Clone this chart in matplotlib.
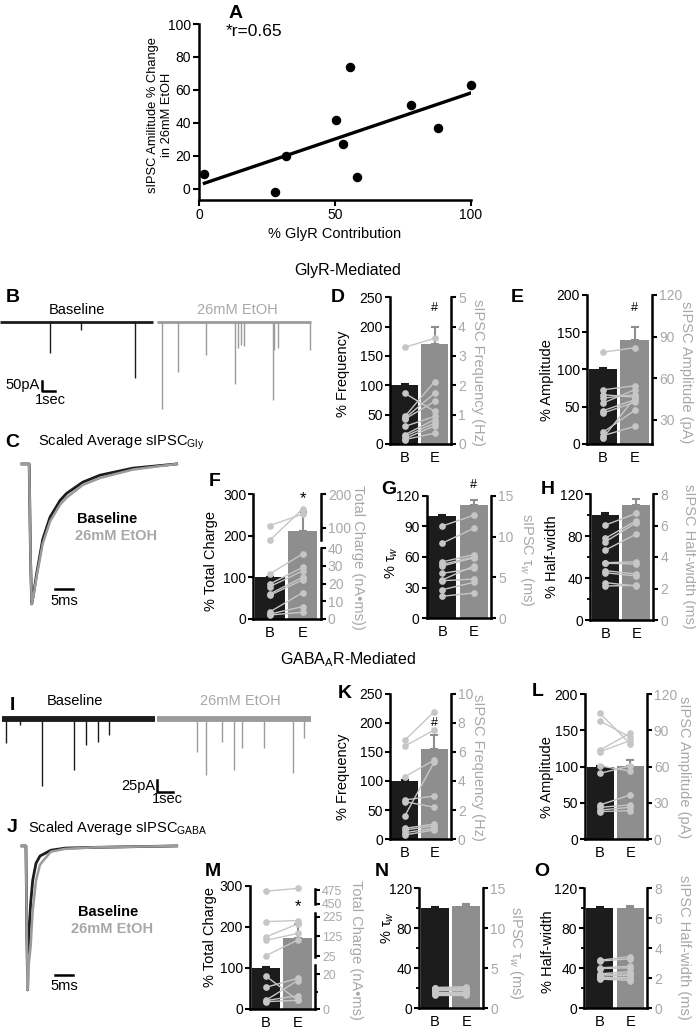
import numpy as np
import matplotlib
matplotlib.use("Agg")
import matplotlib.pyplot as plt

plt.rcParams["font.family"] = ["Liberation Sans", "DejaVu Sans"]
plt.rcParams["mathtext.fontset"] = "custom"
plt.rcParams["mathtext.rm"] = "Liberation Sans"
plt.rcParams["mathtext.it"] = "Liberation Sans:italic"

BLK = "#1c1c1c"
GRY = "#8e8e8e"
PT = "#c6c6c6"
RG = "#a8a8a8"
TG = "#9b9b9b"

# ---- panel A: correlation ----
glyr_pct = [2, 28, 32, 50.5, 53, 55.5, 58, 78, 88, 100]
amp_change = [9, -2, 20, 42, 27, 74, 7, 51, 37, 63]

# ---- panel B / I: raw traces (event time s, amplitude pA) ----
b_base_t = [3.85, 6.2, 10.4]
b_base_amp = [155, 40, 280]
b_etoh_t = [12.45, 13.7, 15.85, 18.1, 18.3, 18.5, 18.8, 21.0, 21.1, 21.4, 23.85]
b_etoh_amp = [435, 250, 165, 310, 130, 115, 120, 390, 140, 130, 140]

i_base_t = [0.375, 1.25, 2.6, 4.6, 5.4, 6.1, 6.8]
i_base_amp = [50, 12, 139, 106, 54, 48, 33]
i_etoh_t = [12.3, 12.9, 13.9, 14.6, 15.1, 16.5, 18.3, 19.0]
i_etoh_amp = [69, 117, 48, 106, 60, 60, 112, 40]

# ---- panel C / J: scaled averages (ms, normalised) ----
gly_t = [0, 2.0, 2.4, 2.7, 3.2, 4.1, 5.75, 7.8, 10.6, 12.4, 16.9, 21.7, 30.8, 43]
gly_base = [0, 0, -0.7, -1.0, -0.93, -0.78, -0.54, -0.38, -0.26, -0.21, -0.13, -0.08, -0.03, 0]
gly_etoh = [0, 0, -0.7, -1.0, -0.94, -0.80, -0.57, -0.41, -0.29, -0.24, -0.15, -0.10, -0.04, 0]

gaba_t = [0, 1.1, 1.35, 1.58, 1.75, 2.4, 2.97, 3.9, 5.0, 8.0, 12, 20, 43]
gaba_base = [0, 0, -0.6, -1.0, -0.70, -0.40, -0.24, -0.12, -0.07, -0.03, -0.015, -0.01, 0]
gaba_etoh = [0, 0, -0.6, -1.0, -0.85, -0.70, -0.45, -0.24, -0.13, -0.04, -0.02, -0.01, 0]

# ---- bar panels: % of baseline (bars), SEM, paired raw values ----
d_pct, d_err = [100, 170], [2, 30]
d_b = [3.3, 1.73, 0.94, 0.88, 0.85, 0.6, 0.32, 0.26, 0.18, 0.15]
d_e = [3.6, 1.11, 2.13, 1.73, 1.45, 0.94, 0.83, 0.71, 0.62, 0.37]

e_pct, e_err = [100, 139], [1.5, 18]
e_b = [78.7, 51.6, 48, 45.6, 42, 36.5, 34.8, 20.9, 18.5, 16.8]
e_e = [82, 54.5, 46.3, 48, 51.6, 44.4, 42.5, 36.7, 25.2, 45.6]

f_pct, f_err = [100, 212], [2, 46]
f_b = [106, 62, 25.5, 19.8, 18.3, 14.2, 13.4, 4, 2.8, 2.3]
f_e = [141, 156, 36.8, 29.2, 27.2, 23.6, 22.1, 14.9, 7, 3.8]

g_pct, g_err = [100, 111], [1.5, 5]
g_b = [11.3, 9.2, 6.9, 6.6, 6.4, 5.5, 4.7, 4.6, 3.5, 2.7]
g_e = [12.6, 11.0, 7.8, 7.5, 7.4, 6.1, 6.4, 4.8, 4.4, 3.1]

h_pct, h_err = [100, 110], [1.5, 5.5]
h_b = [6.03, 5.19, 4.97, 4.44, 3.64, 3.6, 3.13, 3.0, 2.37, 2.16]
h_e = [6.77, 6.31, 6.18, 5.46, 3.7, 3.56, 2.92, 2.79, 2.16, 2.2]

k_pct, k_err = [100, 155], [2, 24]
k_b = [6.8, 6.4, 4.3, 2.7, 2.58, 1.6, 0.75, 0.64, 0.46, 0.3]
k_e = [8.76, 7.5, 5.44, 2.97, 2.2, 5.32, 1.05, 0.92, 0.75, 0.64]

l_pct, l_err = [99, 101], [1.5, 8]
l_b = [104, 97.7, 73.8, 72.4, 60.6, 54.5, 28.4, 26.4, 24.2, 22.9]
l_e = [78.8, 84.3, 87.6, 81.5, 56.4, 60.6, 36.6, 28.4, 26.4, 23.7]

m_pct, m_err = [100, 172], [2, 35]
m_b = [473, 200, 122, 105, 27, 18.9, 12.4, 5.0, 4.8, 4.2]
m_e = [478, 205, 188, 140, 106, 5.0, 17.5, 16.2, 7.6, 5.0]

n_pct, n_err = [100, 102], [1.5, 2.5]
n_b = [2.6, 2.5, 2.4, 2.3, 2.2, 2.1, 2.0, 1.9, 1.8, 1.7]
n_e = [2.7, 2.55, 2.45, 2.35, 2.25, 2.1, 2.0, 1.9, 1.8, 1.7]

o_pct, o_err = [100, 100], [1.5, 2.5]
o_b = [3.2, 3.15, 2.7, 2.65, 2.3, 2.25, 2.15, 2.1, 2.0, 1.95]
o_e = [3.45, 3.3, 2.8, 2.7, 2.45, 2.3, 2.2, 2.1, 1.95, 1.85]

W, H = 696, 1031
fig = plt.figure(figsize=(W / 100, H / 100), dpi=100)


def px_axes(x0, y0, x1, y1):
    return fig.add_axes([x0 / W, 1 - y1 / H, (x1 - x0) / W, (y1 - y0) / H])


def ftext(x, y, s, **kw):
    kw.setdefault("ha", "center")
    kw.setdefault("va", "center")
    fig.text(x / W, 1 - y / H, s, **kw)


def letter(x, y, s):
    ftext(x, y, s, fontsize=14, fontweight="bold")


# panel A
ax = px_axes(199, 24, 471, 200)
ax.scatter(glyr_pct, amp_change, s=34, color="k", zorder=3, clip_on=False)
slope, icpt = np.polyfit(glyr_pct, amp_change, 1)
xs = np.array([min(glyr_pct), max(glyr_pct)])
ax.plot(xs, slope * xs + icpt, color="k", lw=2.4)
ax.set_xlim(0, 100)
ax.set_ylim(-6.7, 100)
ax.set_xticks([0, 50, 100])
ax.set_yticks([0, 20, 40, 60, 80, 100])
for s in ["top", "right"]:
    ax.spines[s].set_visible(False)
for s in ["left", "bottom"]:
    ax.spines[s].set_linewidth(1.8)
ax.tick_params(length=4, width=1.5, labelsize=10, pad=2)
ax.text(0.1, 0.96, "*r=0.65", transform=ax.transAxes, fontsize=12.5, va="center")
ftext(335, 234, "% GlyR Contribution", fontsize=10.5)
ftext(160, 115, "sIPSC Amilitude % Change\nin 26mM EtOH", fontsize=9.3,
      rotation=90, multialignment="center")
letter(236, 14, "A")

ftext(348, 270, "GlyR-Mediated", fontsize=11.5)
ftext(348, 660, "GABA$_\\mathregular{A}$R-Mediated", fontsize=11.5)


def trace_panel(box, xlim, ylim, segs, events):
    ax = px_axes(*box)
    ax.set_axis_off()
    ax.set_xlim(*xlim)
    ax.set_ylim(*ylim)
    for (t0, t1, col, lw), (ts, amps) in zip(segs, events):
        ax.hlines(0, t0, t1, color=col, lw=lw)
        ax.vlines(ts, -np.array(amps), 0, color=col, lw=1.0)
    return ax


# panel B
axb = trace_panel((0, 300, 315, 415), (0, 315 / 13), (-465, 110),
                  [(0, 11.8, BLK, 2.0), (12.1, 23.9, TG, 2.0)],
                  [(b_base_t, b_base_amp), (b_etoh_t, b_etoh_amp)])
axb.plot([3.23, 3.23, 4.23], [-295, -345, -345], color="k", lw=1.8)
ftext(77, 310, "Baseline", fontsize=10.5)
ftext(237, 310, "26mM EtOH", fontsize=10.5, color=RG)
ftext(40, 385, "50pA", fontsize=10.5, ha="right")
ftext(50, 400, "1sec", fontsize=10.5)
letter(13, 297, "B")

# panel I
axi = trace_panel((0, 695, 315, 800), (0, 315 / 16), (-168.75, 50),
                  [(0.125, 9.69, BLK, 4.2), (9.81, 19.44, TG, 4.2)],
                  [(i_base_t, i_base_amp), (i_etoh_t, i_etoh_amp)])
axi.plot([9.8, 9.8, 10.8], [-127, -152, -152], color="k", lw=1.8)
ftext(75, 701, "Baseline", fontsize=10.5)
ftext(240, 701, "26mM EtOH", fontsize=10.5, color=RG)
ftext(155, 786, "25pA", fontsize=10.5, ha="right")
ftext(167, 799, "1sec", fontsize=10.5)
letter(12, 706, "I")


def avg_panel(box, ylim, t, base, etoh, bar_y):
    ax = px_axes(*box)
    ax.set_axis_off()
    ax.set_xlim(-1.94, 45.3)
    ax.set_ylim(*ylim)
    ax.plot(t, base, color=BLK, lw=2.0)
    ax.plot(t, etoh, color=TG, lw=1.8)
    ax.plot([9.17, 14.17], [bar_y, bar_y], color="k", lw=1.8)
    return ax


avg_panel((15, 455, 185, 610), (-1.043, 0.064), gly_t, gly_base, gly_etoh, -0.893)
ftext(64, 601, "5ms", fontsize=10.5)
ftext(107, 519, "Baseline", fontsize=10.5, fontweight="bold")
ftext(116, 536, "26mM EtOH", fontsize=10.5, fontweight="bold", color=RG)
ftext(38, 442, "Scaled Average sIPSC$_\\mathregular{Gly}$", fontsize=10.5, ha="left")
letter(12, 442, "C")

avg_panel((15, 835, 185, 995), (-1.035, 0.076), gaba_t, gaba_base, gaba_etoh, -0.896)
ftext(64, 986, "5ms", fontsize=10.5)
ftext(108, 912, "Baseline", fontsize=10.5, fontweight="bold")
ftext(112, 929, "26mM EtOH", fontsize=10.5, fontweight="bold", color=RG)
ftext(28, 828, "Scaled Average sIPSC$_\\mathregular{GABA}$", fontsize=10.5, ha="left")
letter(12, 828, "J")


def bar_panel(box, ymax, lticks, pct, err, b_raw, e_raw, segs, minor=None,
              mark=None, rsize=10):
    x0, x1, ytop, ybot = box
    ax = px_axes(x0, ytop, x1, ybot)
    ax.patch.set_visible(False)
    ax.set_xlim(-0.5, 1.55)
    ax.set_ylim(0, ymax)
    ax.bar([0, 1], pct, width=0.9, color=[BLK, GRY], zorder=1)
    for i, c in enumerate([BLK, GRY]):
        ax.errorbar(i, pct[i], yerr=[[0], [err[i]]], color=c, capsize=3,
                    lw=1.5, capthick=1.5, zorder=1)
    for s in ["top", "right"]:
        ax.spines[s].set_visible(False)
    for s in ["left", "bottom"]:
        ax.spines[s].set_linewidth(1.8)
    ax.set_yticks(lticks)
    if minor:
        ax.set_yticks(minor, minor=True)
        ax.tick_params(axis="y", which="minor", length=2.5, width=1.3)
    ax.tick_params(axis="y", length=3.6, width=1.5, labelsize=10, pad=1.5)
    ax.set_xticks([0, 1])
    ax.set_xticklabels(["B", "E"])
    ax.tick_params(axis="x", length=0, labelsize=10.5, pad=5)

    seg_axes = []
    for (sy0, sy1, lo, hi, ticks, mticks) in segs:
        a = px_axes(x0, sy0, x1, sy1)
        a.patch.set_visible(False)
        for s in ["top", "left", "bottom"]:
            a.spines[s].set_visible(False)
        a.spines["right"].set_linewidth(1.8)
        a.set_xticks([])
        a.yaxis.tick_right()
        a.set_ylim(lo, hi)
        a.set_yticks(ticks)
        if mticks:
            a.set_yticks(mticks, minor=True)
            a.tick_params(axis="y", which="minor", length=2.5, width=1.3)
        a.tick_params(axis="y", length=3.6, width=1.5, labelsize=rsize,
                      labelcolor=RG, pad=1.5)
        seg_axes.append((a, lo, hi))

    def to_pct(v):
        best = min(seg_axes, key=lambda s: 0 if s[1] <= v <= s[2]
                   else min(abs(v - s[1]), abs(v - s[2])))
        disp = best[0].transData.transform((0, v))
        return ax.transData.inverted().transform(disp)[1]

    for b, e in zip(b_raw, e_raw):
        ax.plot([0, 1], [to_pct(b), to_pct(e)], "-o", color=PT, ms=3.8,
                lw=1.0, zorder=5, clip_on=False)
    if mark:
        ax.text(1, mark[1], mark[0], ha="center", va="center",
                fontsize=12 if mark[0] == "*" else 9)
    return ax


def seg1(box, lo, hi, ticks, mticks=None):
    return [(box[2], box[3], lo, hi, ticks, mticks)]


# GlyR panels
box = (390, 451, 297.3, 444)
bar_panel(box, 250, range(0, 251, 50), d_pct, d_err, d_b, d_e,
          seg1(box, 0, 5, range(0, 6)), mark=("#", 231))
letter(338, 297, "D")
ftext(343, 374, "% Frequency", fontsize=10.5, rotation=90)
ftext(478, 372, "sIPSC Frequency (Hz)", fontsize=10.5, rotation=270, color=RG)

box = (587, 652, 295, 444)
bar_panel(box, 200, range(0, 201, 50), e_pct, e_err, e_b, e_e,
          seg1(box, 12.5, 120, [30, 60, 90, 120]), mark=("#", 182))
letter(517, 297, "E")
ftext(547, 380, "% Amplitude", fontsize=10.5, rotation=90)
ftext(686, 372, "sIPSC Amplitude (pA)", fontsize=10.5, rotation=270, color=RG)

box = (253.3, 320.7, 494.3, 619)
bar_panel(box, 300, [0, 100, 200, 300], f_pct, f_err, f_b, f_e,
          [(494.3, 540, 63, 200, [100, 200], None),
           (548.3, 619, 0, 40, [0, 10, 20, 30, 40], None)], mark=("*", 290))
letter(215, 482, "F")
ftext(211, 561, "% Total Charge", fontsize=10.5, rotation=90)
ftext(358, 557, "Total Charge (nA\u2022ms))", fontsize=10.5, rotation=270, color=RG)

box = (426.7, 491, 495.7, 618.3)
bar_panel(box, 120, [0, 30, 60, 90, 120], g_pct, g_err, g_b, g_e,
          seg1(box, 0, 15, [0, 5, 10, 15]), mark=("#", 130))
letter(389, 489, "G")
ftext(392, 563, "% \u03c4$_w$", fontsize=10.5, rotation=90)
ftext(527, 560, "sIPSC \u03c4$_w$ (ms)", fontsize=10.5, rotation=270, color=RG)

box = (590, 653.3, 494, 620)
bar_panel(box, 120, [0, 40, 80, 120], h_pct, h_err, h_b, h_e,
          seg1(box, 0, 8, [0, 2, 4, 6, 8]), minor=[20, 60, 100])
letter(548, 489, "H")
ftext(552, 557, "% Half-width", fontsize=10.5, rotation=90)
ftext(689, 556, "sIPSC Half-width (ms)", fontsize=10.5, rotation=270, color=RG)

# GABA panels
box = (390, 450.7, 693.5, 839.3)
bar_panel(box, 250, range(0, 251, 50), k_pct, k_err, k_b, k_e,
          seg1(box, 0, 10, range(0, 11, 2)), mark=("#", 200))
letter(345, 694, "K")
ftext(343, 777, "% Frequency", fontsize=10.5, rotation=90)
ftext(478, 767, "sIPSC Frequency (Hz)", fontsize=10.5, rotation=270, color=RG)

box = (585, 646.7, 694, 839.3)
bar_panel(box, 200, range(0, 201, 50), l_pct, l_err, l_b, l_e,
          seg1(box, 0, 120, [0, 30, 60, 90, 120]))
letter(538, 692, "L")
ftext(547, 777, "% Amplitude", fontsize=10.5, rotation=90)
ftext(684, 767, "sIPSC Amplitude (pA)", fontsize=10.5, rotation=270, color=RG)

box = (250, 315, 885.7, 1009)
bar_panel(box, 300, [0, 100, 200, 300], m_pct, m_err, m_b, m_e,
          [(889.5, 904.5, 449, 476, [450, 475], None),
           (912.7, 956.7, 22, 245, [25, 125, 225], None),
           (965.3, 1009, 0, 25, [0, 20], [10])], mark=("*", 250), rsize=8.8)
letter(213, 872, "M")
ftext(210, 937, "% Total Charge", fontsize=10.5, rotation=90)
ftext(356, 950, "Total Charge (nA\u2022ms)", fontsize=10.5, rotation=270, color=RG)

box = (419.3, 483.3, 888.3, 1008.3)
bar_panel(box, 120, [0, 40, 80, 120], n_pct, n_err, n_b, n_e,
          seg1(box, 0, 15, [0, 5, 10, 15]), minor=[20, 60, 100])
letter(382, 872, "N")
ftext(388, 928, "% \u03c4$_w$", fontsize=10.5, rotation=90)
ftext(516, 953, "sIPSC \u03c4$_w$ (ms)", fontsize=10.5, rotation=270, color=RG)

box = (584.3, 647.3, 888.3, 1008.3)
bar_panel(box, 120, [0, 40, 80, 120], o_pct, o_err, o_b, o_e,
          seg1(box, 0, 8, [0, 2, 4, 6, 8]), minor=[20, 60, 100])
letter(542, 872, "O")
ftext(548, 952, "% Half-width", fontsize=10.5, rotation=90)
ftext(684, 947, "sIPSC Half-width (ms)", fontsize=10.5, rotation=270, color=RG)

fig.savefig("out.png", dpi=100)
